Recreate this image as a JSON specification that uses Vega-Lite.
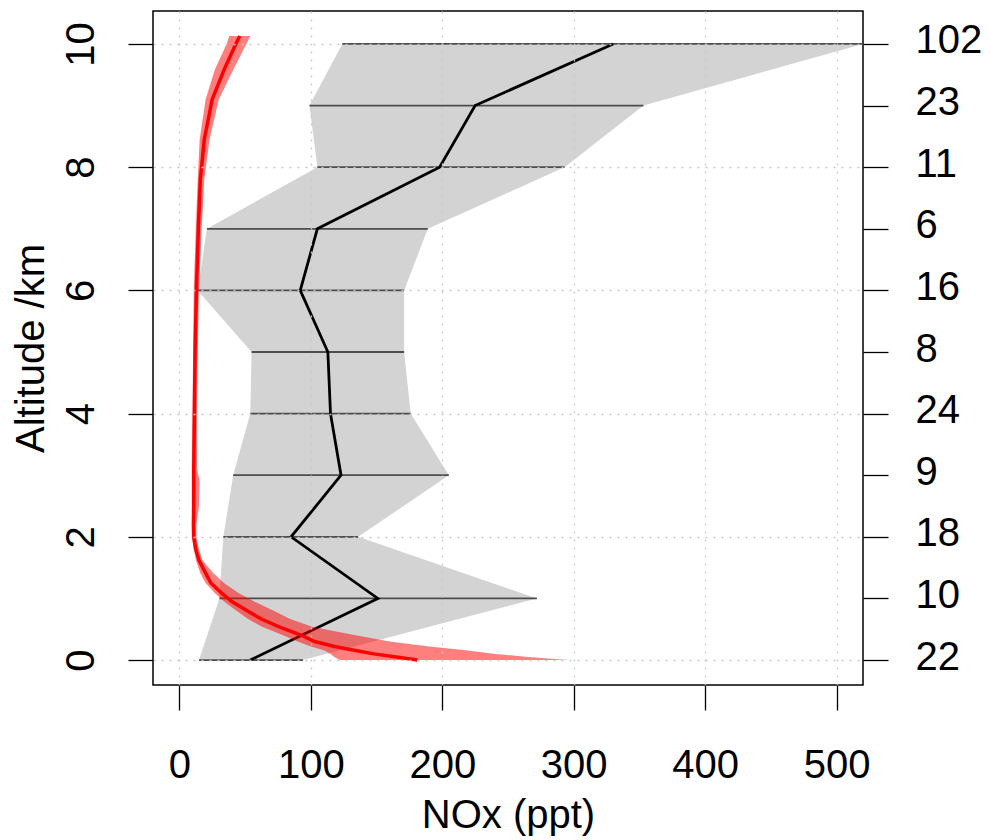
{
  "$schema": "https://vega.github.io/schema/vega-lite/v6.json",
  "autosize": {"type": "none"},
  "padding": {"left": 153, "top": 11, "right": 127, "bottom": 155},
  "width": 710,
  "height": 674,
  "background": "white",
  "config": {
    "view": {"stroke": "black", "strokeWidth": 1.5},
    "axis": {
      "domain": false,
      "tickSize": 25,
      "tickColor": "black",
      "tickWidth": 1.3,
      "labelFont": "Liberation Sans",
      "labelFontSize": 40,
      "labelColor": "black",
      "titleFont": "Liberation Sans",
      "titleFontSize": 40,
      "titleFontWeight": "normal",
      "titleColor": "black",
      "gridColor": "#c8c8c8",
      "gridDash": [2, 6],
      "gridWidth": 1.3,
      "labelFlush": false,
      "labelOverlap": false
    }
  },
  "datasets": {
    "obs": [
      {"alt": 0, "lo": 15, "mid": 54, "hi": 94, "n": 22},
      {"alt": 1, "lo": 30.5, "mid": 151, "hi": 272, "n": 10},
      {"alt": 2, "lo": 33.5, "mid": 85, "hi": 136, "n": 18},
      {"alt": 3, "lo": 41, "mid": 123, "hi": 205, "n": 9},
      {"alt": 4, "lo": 54, "mid": 115, "hi": 176, "n": 24},
      {"alt": 5, "lo": 55, "mid": 113, "hi": 171, "n": 8},
      {"alt": 6, "lo": 14, "mid": 92, "hi": 171, "n": 16},
      {"alt": 7, "lo": 21, "mid": 105, "hi": 189, "n": 6},
      {"alt": 8, "lo": 105, "mid": 198, "hi": 293, "n": 11},
      {"alt": 9, "lo": 99, "mid": 225, "hi": 353, "n": 23},
      {"alt": 10, "lo": 124, "mid": 330, "hi": 520, "n": 102}
    ],
    "model": [
      {"alt": 0.0, "mid": 181, "lo": 122, "hi": 296},
      {"alt": 0.05, "mid": 165, "lo": 118, "hi": 265},
      {"alt": 0.10, "mid": 148, "lo": 115, "hi": 240},
      {"alt": 0.16, "mid": 133, "lo": 110, "hi": 218},
      {"alt": 0.22, "mid": 118, "lo": 100, "hi": 190},
      {"alt": 0.30, "mid": 103, "lo": 90, "hi": 160},
      {"alt": 0.41, "mid": 92, "lo": 78, "hi": 132},
      {"alt": 0.54, "mid": 76, "lo": 63, "hi": 101},
      {"alt": 0.67, "mid": 62, "lo": 52, "hi": 84},
      {"alt": 0.81, "mid": 51, "lo": 43, "hi": 71},
      {"alt": 0.95, "mid": 40, "lo": 34, "hi": 57},
      {"alt": 1.09, "mid": 32, "lo": 27, "hi": 45},
      {"alt": 1.25, "mid": 24, "lo": 20, "hi": 34},
      {"alt": 1.41, "mid": 20, "lo": 16, "hi": 26},
      {"alt": 1.62, "mid": 15, "lo": 12.7, "hi": 17.5},
      {"alt": 1.8, "mid": 12.5, "lo": 11, "hi": 15},
      {"alt": 2.0, "mid": 11, "lo": 9.5, "hi": 13},
      {"alt": 2.2, "mid": 10.8, "lo": 9.5, "hi": 13},
      {"alt": 2.5, "mid": 11, "lo": 9.5, "hi": 15},
      {"alt": 2.9, "mid": 11, "lo": 9.5, "hi": 15.5},
      {"alt": 3.1, "mid": 11, "lo": 9.5, "hi": 13.5},
      {"alt": 4.0, "mid": 11.5, "lo": 10, "hi": 13.5},
      {"alt": 5.0, "mid": 12, "lo": 10.5, "hi": 14},
      {"alt": 6.0, "mid": 13, "lo": 11, "hi": 15},
      {"alt": 7.0, "mid": 14.5, "lo": 12.5, "hi": 17},
      {"alt": 7.8, "mid": 16, "lo": 14, "hi": 19},
      {"alt": 8.45, "mid": 19, "lo": 15.5, "hi": 23},
      {"alt": 9.1, "mid": 25, "lo": 20, "hi": 30},
      {"alt": 9.58, "mid": 34, "lo": 27, "hi": 41},
      {"alt": 10.0, "mid": 43, "lo": 36, "hi": 51},
      {"alt": 10.13, "mid": 46, "lo": 38, "hi": 54}
    ]
  },
  "resolve": {"axis": {"y": "independent"}},
  "layer": [
    {
      "data": {"name": "obs"},
      "mark": {"type": "area", "orient": "horizontal", "color": "#d3d3d3", "clip": true},
      "encoding": {
        "y": {"field": "alt", "type": "quantitative", "scale": {"domain": [-0.405, 10.535], "nice": false, "zero": false},
          "axis": {"orient": "left", "values": [0, 2, 4, 6, 8, 10], "title": "Altitude /km", "grid": true, "zindex": 2,
            "labelAngle": -90, "labelAlign": "center", "labelBaseline": "alphabetic", "labelPadding": 35,
            "titleAngle": -90, "titleAlign": "center", "titleBaseline": "alphabetic", "titleX": -110, "titleY": 337}},
        "x": {"field": "lo", "type": "quantitative", "scale": {"domain": [-20, 520], "nice": false, "zero": false},
          "axis": {"values": [0, 100, 200, 300, 400, 500], "title": "NOx (ppt)", "grid": true, "zindex": 2,
            "labelPadding": 67, "labelBaseline": "alphabetic", "labelAlign": "center",
            "titleX": 355, "titleY": 142, "titleAlign": "center", "titleBaseline": "alphabetic"}},
        "x2": {"field": "hi"}
      }
    },
    {
      "data": {"name": "obs"},
      "mark": {"type": "rule", "color": "#4d4d4d", "strokeWidth": 1.8},
      "encoding": {
        "y": {"field": "alt", "type": "quantitative", "scale": {"domain": [-0.405, 10.535], "nice": false, "zero": false},
          "axis": {"orient": "right", "values": [0, 1, 2, 3, 4, 5, 6, 7, 8, 9, 10], "title": null, "grid": false, "zindex": 2,
            "labelExpr": "['22','10','18','9','24','8','16','6','11','23','102'][datum.value]",
            "labelPadding": 27, "labelAlign": "left", "labelBaseline": "middle", "labelOffset": -3}},
        "x": {"field": "lo", "type": "quantitative", "scale": {"domain": [-20, 520], "nice": false, "zero": false},
          "axis": {"values": [0, 100, 200, 300, 400, 500], "title": "NOx (ppt)", "grid": true, "zindex": 2,
            "labelPadding": 67, "labelBaseline": "alphabetic", "labelAlign": "center",
            "titleX": 355, "titleY": 142, "titleAlign": "center", "titleBaseline": "alphabetic"}},
        "x2": {"field": "hi"}
      }
    },
    {
      "data": {"name": "obs"},
      "mark": {"type": "line", "color": "black", "strokeWidth": 2.8},
      "encoding": {
        "y": {"field": "alt", "type": "quantitative", "scale": {"domain": [-0.405, 10.535], "nice": false, "zero": false}, "axis": null},
        "x": {"field": "mid", "type": "quantitative", "scale": {"domain": [-20, 520], "nice": false, "zero": false},
          "axis": {"values": [0, 100, 200, 300, 400, 500], "title": "NOx (ppt)", "grid": true, "zindex": 2,
            "labelPadding": 67, "labelBaseline": "alphabetic", "labelAlign": "center",
            "titleX": 355, "titleY": 142, "titleAlign": "center", "titleBaseline": "alphabetic"}},
        "order": {"field": "alt", "type": "quantitative"}
      }
    },
    {
      "data": {"name": "model"},
      "mark": {"type": "area", "orient": "horizontal", "color": "#ff0000", "opacity": 0.5, "clip": true},
      "encoding": {
        "y": {"field": "alt", "type": "quantitative", "scale": {"domain": [-0.405, 10.535], "nice": false, "zero": false}, "axis": null},
        "x": {"field": "lo", "type": "quantitative", "scale": {"domain": [-20, 520], "nice": false, "zero": false},
          "axis": {"values": [0, 100, 200, 300, 400, 500], "title": "NOx (ppt)", "grid": true, "zindex": 2,
            "labelPadding": 67, "labelBaseline": "alphabetic", "labelAlign": "center",
            "titleX": 355, "titleY": 142, "titleAlign": "center", "titleBaseline": "alphabetic"}},
        "x2": {"field": "hi"}
      }
    },
    {
      "data": {"name": "model"},
      "mark": {"type": "line", "color": "#ff0000", "strokeWidth": 3.5},
      "encoding": {
        "y": {"field": "alt", "type": "quantitative", "scale": {"domain": [-0.405, 10.535], "nice": false, "zero": false}, "axis": null},
        "x": {"field": "mid", "type": "quantitative", "scale": {"domain": [-20, 520], "nice": false, "zero": false},
          "axis": {"values": [0, 100, 200, 300, 400, 500], "title": "NOx (ppt)", "grid": true, "zindex": 2,
            "labelPadding": 67, "labelBaseline": "alphabetic", "labelAlign": "center",
            "titleX": 355, "titleY": 142, "titleAlign": "center", "titleBaseline": "alphabetic"}},
        "order": {"field": "alt", "type": "quantitative"}
      }
    }
  ]
}
